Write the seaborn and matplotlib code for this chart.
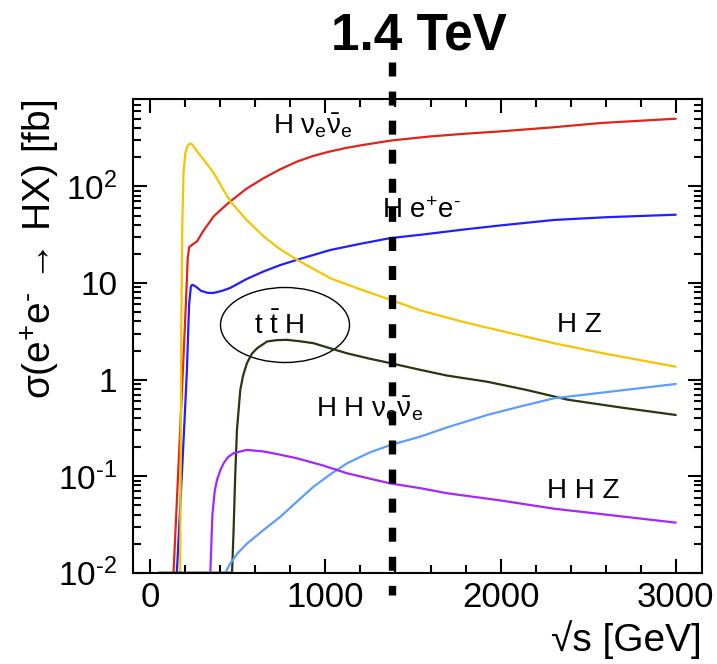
"""
Higgs production cross sections in e+e- collisions vs centre-of-mass energy
"""

import numpy as np
import pandas as pd
import matplotlib
matplotlib.use('Agg')
import matplotlib.pyplot as plt
import seaborn as sns
from matplotlib.patches import Ellipse
from matplotlib.ticker import MultipleLocator, LogLocator, FixedLocator, NullFormatter

# Set style
sns.set_style("ticks")
plt.rcParams['font.family'] = ['Liberation Sans', 'DejaVu Sans']
plt.rcParams['mathtext.fontset'] = 'custom'
plt.rcParams['mathtext.rm'] = 'Liberation Sans'
plt.rcParams['mathtext.it'] = 'Liberation Sans'
plt.rcParams['mathtext.bf'] = 'Liberation Sans:bold'
for key in ['text.color', 'axes.labelcolor', 'xtick.color', 'ytick.color', 'axes.edgecolor']:
    plt.rcParams[key] = 'black'

HY = '\u2010'  # short hyphen, as in the original superscripts

# Data (sqrt(s) in GeV, sigma in fb)
hvv_x = [133, 176, 205, 214, 222, 240, 267, 300, 362, 410, 457, 550, 648, 740, 838,
         930, 1029, 1120, 1219, 1381, 1600, 1800, 2000, 2300, 2571, 3000]
hvv_y = [0.01, 0.48, 7, 18, 23.5, 25, 27, 34, 49, 59, 70, 95, 122, 150, 181,
         207, 231, 251, 270, 300, 330, 352, 372, 410, 454, 503]

hee_x = [152, 185, 209, 222, 232, 240, 260, 290, 330, 362, 410, 457, 550, 648,
         740, 838, 1029, 1200, 1371, 1543, 1800, 2000, 2305, 2600, 3000]
hee_y = [0.01, 0.15, 1.2, 6, 9.2, 9.6, 9.2, 8.3, 7.9, 7.9, 8.3, 8.9, 11, 13.2,
         15.3, 17.4, 22, 25.5, 29.2, 31.6, 36, 39.5, 45, 48, 51]

hz_x = [171, 177, 183, 190, 200, 212, 228, 240, 267, 300, 362, 400, 457, 550,
        648, 740, 838, 1029, 1200, 1371, 1543, 1800, 2000, 2305, 2600, 3000]
hz_y = [0.01, 3, 40, 138, 220, 262, 278, 272, 231, 195, 138, 105, 70, 45,
        30.3, 22.5, 17.4, 11.2, 8.6, 6.7, 5.2, 3.9, 3.2, 2.38, 1.85, 1.36]

tth_x = [50, 467, 476, 485, 495, 514, 530, 552, 580, 610, 667, 720, 781, 850,
         933, 1030, 1124, 1250, 1371, 1543, 1695, 1924, 2150, 2381, 2700, 3000]
tth_y = [0.01, 0.01, 0.028, 0.1, 0.30, 0.78, 1.1, 1.48, 1.85, 2.11, 2.48, 2.56, 2.58, 2.5,
         2.38, 2.1, 1.87, 1.65, 1.48, 1.26, 1.1, 0.95, 0.78, 0.62, 0.51, 0.43]

hhvv_x = [429, 457, 500, 552, 650, 743, 840, 933, 1030, 1124, 1250, 1371, 1543,
          1695, 1924, 2100, 2305, 2600, 3000]
hhvv_y = [0.01, 0.0125, 0.016, 0.020, 0.028, 0.038, 0.055, 0.078, 0.105, 0.136, 0.175,
          0.21, 0.257, 0.32, 0.43, 0.52, 0.64, 0.74, 0.90]

hhz_x = [343, 349, 355, 368, 381, 400, 419, 445, 476, 552, 648, 740, 838, 980,
         1124, 1371, 1543, 1695, 2000, 2305, 2600, 3000]
hhz_y = [0.01, 0.02, 0.04, 0.07, 0.091, 0.115, 0.136, 0.158, 0.173, 0.187, 0.18, 0.167,
         0.153, 0.13, 0.107, 0.084, 0.075, 0.0665, 0.056, 0.046, 0.04, 0.033]

processes = ['Hvv', 'Hee', 'HZ', 'ttH', 'HHvv', 'HHZ']
colors = {'Hvv': '#e2231a', 'Hee': '#1f1fff', 'HZ': '#f5c400',
          'ttH': '#26380e', 'HHvv': '#5c9dff', 'HHZ': '#a526ff'}

ecm_1p4 = 1380  # position of the 1.4 TeV marker line

frames = []
for name, xs, ys in zip(processes,
                        [hvv_x, hee_x, hz_x, tth_x, hhvv_x, hhz_x],
                        [hvv_y, hee_y, hz_y, tth_y, hhvv_y, hhz_y]):
    frames.append(pd.DataFrame({'sqrt_s': xs, 'sigma': ys, 'process': name}))
df = pd.concat(frames, ignore_index=True)

fig = plt.figure(figsize=(7.17, 6.64), dpi=100)
ax = fig.add_axes([0.1851, 0.1375, 0.794, 0.713])

sns.lineplot(data=df, x='sqrt_s', y='sigma', hue='process', palette=colors,
             hue_order=processes, linewidth=1.6, legend=False, ax=ax, estimator=None)

ax.set_yscale('log')
ax.set_xlim(-100, 3150)
ax.set_ylim(0.01, 800)

# Ticks
ax.xaxis.set_major_locator(MultipleLocator(1000))
ax.xaxis.set_minor_locator(MultipleLocator(200))
ax.yaxis.set_major_locator(FixedLocator([0.01, 0.1, 1, 10, 100]))
ax.yaxis.set_minor_locator(LogLocator(base=10, subs=np.arange(2, 10)))
ax.yaxis.set_minor_formatter(NullFormatter())
ax.set_yticklabels(['$10^{' + HY + '2}$', '$10^{' + HY + '1}$', '1', '10', '$10^{2}$'])
ax.tick_params(which='both', direction='in', top=True, right=True, width=1.5)
ax.tick_params(which='major', length=10)
ax.tick_params(which='minor', length=6)
ax.tick_params(axis='x', labelsize=25, pad=6)
ax.tick_params(axis='y', labelsize=24, pad=11)
for sp in ax.spines.values():
    sp.set_linewidth(1.5)

ax.set_xlabel('√s [GeV]', fontsize=28, loc='right')
ax.xaxis.set_label_coords(1.0, -0.1)
ax.set_ylabel('σ(e$^{+}$e$^{' + HY + '}$ → HX) [fb]', fontsize=28, loc='top')
ax.yaxis.set_label_coords(-0.125, 1.0)

# 1.4 TeV marker
ax.plot([ecm_1p4, ecm_1p4], [1.0788, -0.047], transform=ax.get_xaxis_transform(),
        color='black', linewidth=5.3, dashes=(1.9, 2.05), clip_on=False, zorder=5)
fig.text(419 / 717, 1 - 50 / 664, '1.4 TeV', fontsize=37, fontweight='bold',
         ha='center', va='baseline')

# Process labels
lab = dict(fontsize=20, va='baseline', ha='left')
ax.text(703, 351, r'H $\nu_{e}\bar{\nu}_{e}$', **lab)
ax.text(1324, 47, 'H e$^{+}$e$^{' + HY + '}$', **lab)
ax.text(590, 2.97, r't $\bar{\mathrm{t}}$ H', **lab)
ax.text(2324, 3.14, 'H Z', **lab)
ax.text(949, 0.414, r'H H $\nu_{e}\bar{\nu}_{e}$', **lab)
ax.text(2263, 0.059, 'H H Z', **lab)

ax.add_patch(Ellipse((0.2675, 0.5232), 0.2266, 0.1584, transform=ax.transAxes,
                     fill=False, edgecolor='black', linewidth=1))

fig.savefig('out.png', dpi=100)
